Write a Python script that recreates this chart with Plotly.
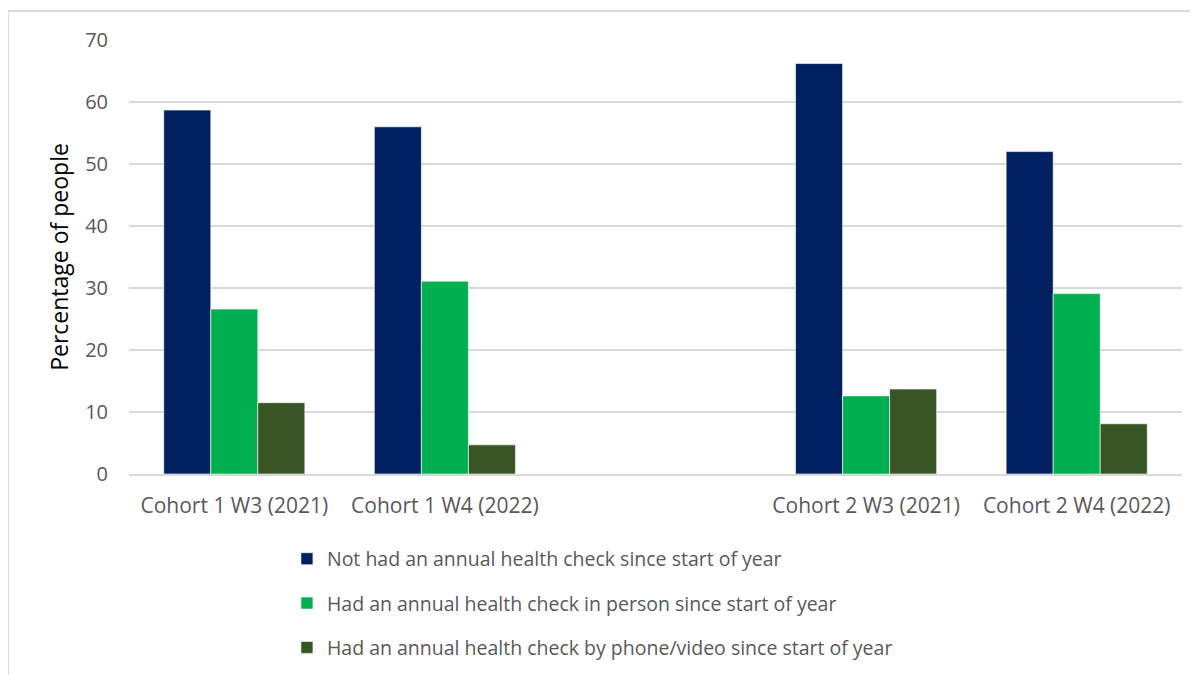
import plotly.graph_objects as go

categories = ["Cohort 1 W3 (2021)", "Cohort 1 W4 (2022)", " ", "Cohort 2 W3 (2021)", "Cohort 2 W4 (2022)"]
series_names = [
    "Not had an annual health check since start of year",
    "Had an annual health check in person since start of year",
    "Had an annual health check by phone/video since start of year",
]
not_had = [58.7, 56.0, None, 66.2, 52.0]
in_person = [26.6, 31.1, None, 12.6, 29.1]
phone_video = [11.5, 4.7, None, 13.7, 8.1]
colors = ["#002060", "#00B050", "#375623"]

fig = go.Figure()
for i, (name, vals) in enumerate(zip(series_names, [not_had, in_person, phone_video])):
    fig.add_trace(go.Bar(
        x=categories, y=vals, name=name,
        marker=dict(color=colors[i], line=dict(color="rgba(255,255,255,0.6)", width=1)),
        legendgroup=f"g{i}",
    ))

fig.update_layout(
    width=1198, height=675,
    barmode="group", bargap=0.33, bargroupgap=0,
    plot_bgcolor="white", paper_bgcolor="white",
    margin=dict(l=121, r=24, t=32, b=209),
    font=dict(family="Open Sans, Noto Sans, sans-serif", color="#595959"),
    xaxis=dict(
        type="category", categoryorder="array", categoryarray=categories,
        showline=True, linecolor="#D9D9D9", linewidth=2,
        tickfont=dict(size=21, color="#595959"), ticks="", ticklabelstandoff=12,
    ),
    yaxis=dict(
        range=[0, 70], dtick=10, showgrid=True, gridcolor="#D9D9D9", gridwidth=2,
        zeroline=False, showline=False, ticks="",
        tickfont=dict(size=20, color="#595959"), ticklabelstandoff=20,
        title=dict(text="Percentage of people", font=dict(size=23, color="#000000"), standoff=10),
    ),
    legend=dict(
        orientation="v", x=0.150, xanchor="left", y=-0.151, yanchor="top",
        font=dict(size=19.5, color="#595959"), tracegroupgap=16,
        itemwidth=30,
    ),
    shapes=[dict(type="rect", xref="paper", yref="paper",
                 x0=-0.115, x1=1.05, y0=-0.6, y1=1.067,
                 line=dict(color="#D9D9D9", width=2), layer="below")],
)

fig.write_html("out.html")
